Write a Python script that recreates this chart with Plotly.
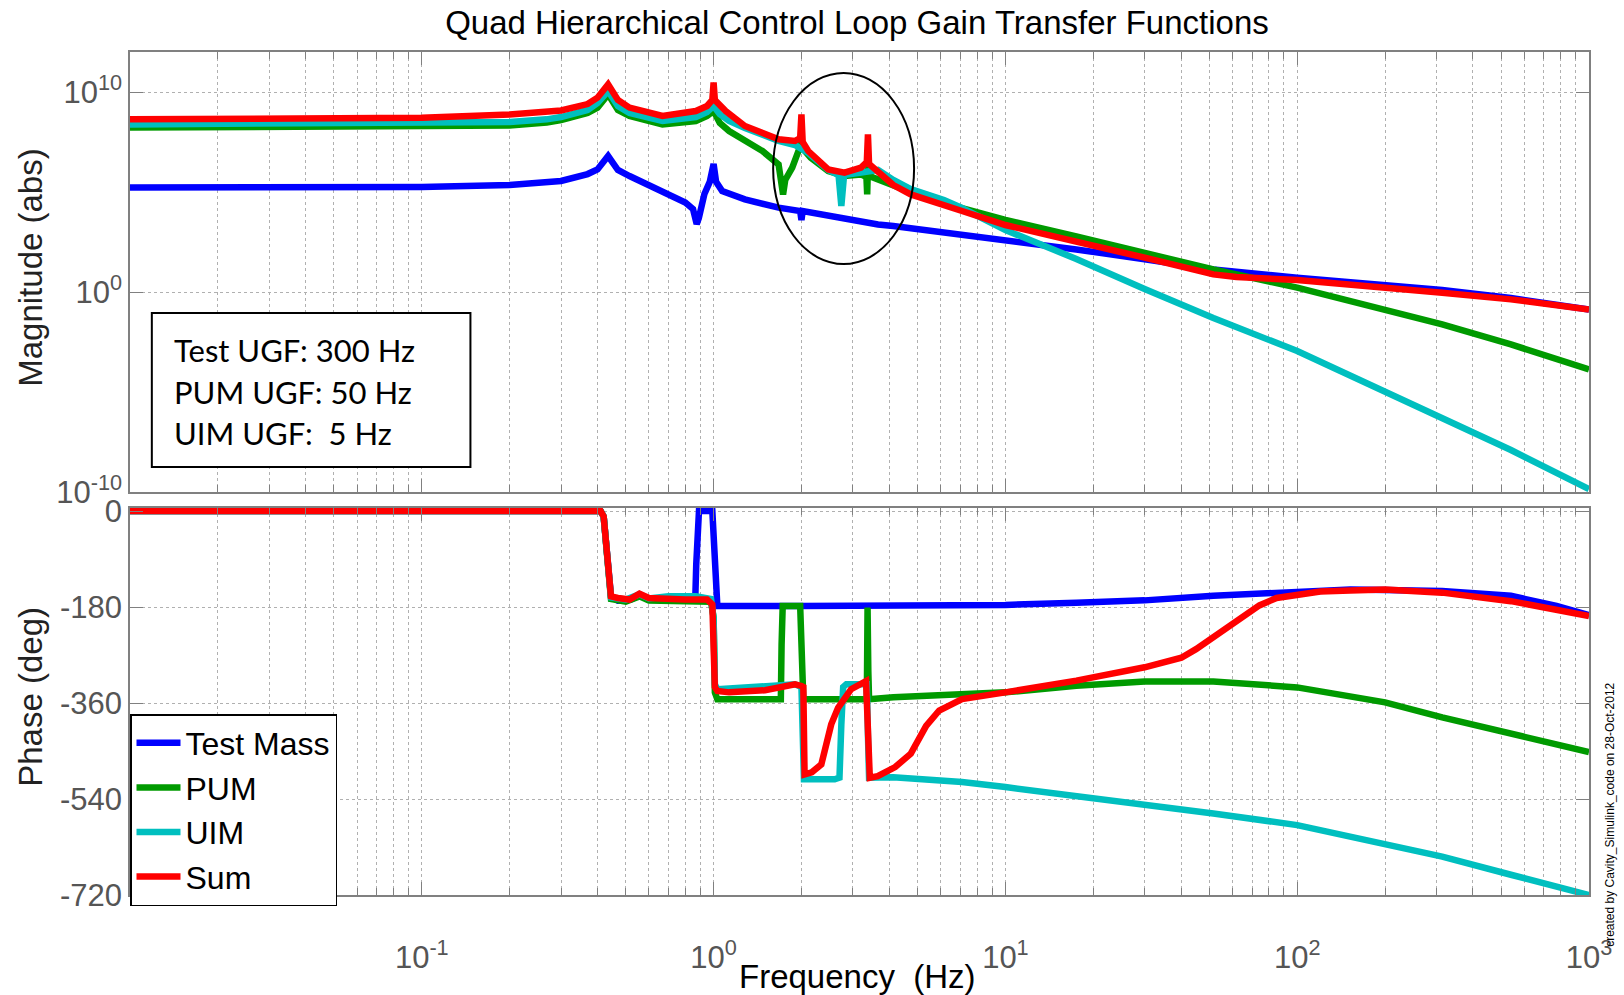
import plotly.graph_objects as go

# ---------------- data ----------------
# Magnitude (abs)
tm_mag_f = [0.01, 0.05, 0.1, 0.2, 0.268, 0.3, 0.37, 0.4, 0.435, 0.47, 0.515, 0.6, 0.668, 0.8, 0.85,
            0.875, 0.89, 0.93, 0.97, 1.0, 1.02, 1.07, 1.28, 1.67, 1.98, 2.0, 2.02, 2.81, 3.66, 4.13,
            6.16, 10, 17.5, 30, 51.6, 100, 200, 314, 540, 1000]
tm_mag = [1.66e5, 1.66e5, 1.78e5, 2.24e5, 2.95e5, 3.55e5, 7.9e5, 1.35e6, 6.3e6, 1.26e6, 6.3e5, 2.24e5,
          1.12e5, 2.95e4, 1.41e4, 2.5e3, 5.0e3, 7.9e4, 3.2e5, 2.5e6, 3.2e5, 1.12e5, 4.3e4, 1.66e4,
          1.12e4, 4.0e3, 1.12e4, 4.3e3, 2.4e3, 2.0e3, 9.3e2, 4.3e2, 1.35e2, 43, 13.5, 5.2, 2.24,
          1.26, 0.5, 0.135]

pum_mag_f = [0.01, 0.1, 0.2, 0.268, 0.3, 0.37, 0.4, 0.435, 0.47, 0.515, 0.668, 0.869, 0.95, 1.0, 1.05,
             1.13, 1.47, 1.67, 1.71, 1.73, 1.76, 1.86, 1.97, 2.0, 2.04, 2.15, 2.47, 2.81, 3.2, 3.34,
             3.36, 3.38, 3.42, 3.66, 4.13, 4.94, 7.1, 10, 17.5, 30, 51.6, 100, 200, 314, 540, 1000]
pum_mag = [1.66e8, 1.78e8, 2.1e8, 2.95e8, 4.0e8, 8.9e8, 1.66e9, 7.6e9, 1.26e9, 6.3e8, 2.4e8, 3.55e8,
           6.3e8, 1.12e9, 2.8e8, 1.12e8, 1.12e7, 2.4e6, 4.0e5, 7.6e4, 4.0e5, 1.66e6, 1.58e7, 4.3e7,
           1.26e7, 5.2e6, 1.12e6, 6.3e5, 7.6e5, 5.6e5, 7.6e4, 2.0e6, 6.3e5, 4.3e5, 2.0e5, 7.9e4,
           1.58e4, 4.0e3, 6.0e2, 93, 13.5, 1.66, 0.135, 0.024, 2.4e-3, 1.35e-4]

uim_mag_f = [0.01, 0.1, 0.2, 0.268, 0.3, 0.37, 0.4, 0.435, 0.47, 0.515, 0.668, 0.869, 0.95, 1.0, 1.05,
             1.13, 1.28, 1.67, 1.9, 2.11, 2.47, 2.68, 2.74, 2.8, 3.2, 3.4, 3.66, 4.13, 4.74, 6.16,
             7.1, 10, 13.6, 17.5, 30, 51.6, 100, 200, 314, 540, 1000]
uim_mag = [2.4e8, 2.6e8, 3.16e8, 4.3e8, 5.6e8, 1.26e9, 2.8e9, 1.12e10, 2.0e9, 8.9e8, 3.55e8, 5.6e8,
           1.0e9, 2.0e9, 7.9e8, 3.55e8, 1.58e8, 3.55e7, 2.24e7, 8.9e6, 1.26e6, 7.1e5, 2.0e4, 7.1e5,
           9.3e5, 1.0e6, 1.26e6, 4.0e5, 1.41e5, 4.0e4, 1.58e4, 1.26e3, 2.24e2, 45, 1.41, 0.05,
           1.12e-3, 1.12e-5, 5.0e-7, 1.26e-8, 1.41e-10]

sum_mag_f = [0.01, 0.1, 0.2, 0.268, 0.3, 0.37, 0.4, 0.435, 0.47, 0.515, 0.668, 0.869, 0.95, 0.99, 1.0,
             1.01, 1.1, 1.28, 1.67, 1.9, 1.98, 2.0, 2.02, 2.11, 2.47, 2.81, 3.2, 3.35, 3.38, 3.41,
             3.66, 4.13, 4.74, 6.16, 7.1, 10, 17.5, 30, 51.6, 61.9, 100, 200, 314, 540, 1000]
sum_mag = [4.3e8, 5.2e8, 7.6e8, 9.3e8, 1.2e9, 2.5e9, 5.2e9, 2.4e10, 4.0e9, 1.66e9, 6.3e8, 1.12e9,
           2.0e9, 4.0e9, 2.95e10, 4.0e9, 1.12e9, 2.0e8, 4.3e7, 3.55e7, 5.0e7, 7.6e8, 3.16e7, 1.12e7,
           1.35e6, 9.3e5, 1.66e6, 3.16e6, 7.6e7, 2.5e6, 1.12e6, 2.24e5, 7.6e4, 2.0e4, 1.12e4,
           2.24e3, 3.55e2, 52, 7.6, 5.6, 4.0, 1.78, 0.93, 0.43, 0.135]

# Phase (deg)
tm_ph_f = [0.01, 0.41, 0.42, 0.43, 0.445, 0.47, 0.52, 0.557, 0.6, 0.8, 0.865, 0.872, 0.891, 0.99,
           1.005, 1.02, 1.03, 2.0, 4.13, 10, 17.5, 30, 51.6, 100, 152, 200, 314, 540, 774, 1000]
tm_ph = [0, 0, -10, -80, -160, -168, -166, -158, -166, -168, -168, -100, 0, 0, -90, -175, -178,
         -178, -178, -176, -172, -167.5, -159, -150, -147, -148, -150, -159, -178, -195]

pum_ph_f = [0.01, 0.41, 0.42, 0.43, 0.445, 0.5, 0.557, 0.6, 0.87, 0.98, 1.0, 1.01, 1.03, 1.5, 1.70,
            1.71, 1.725, 1.98, 2.0, 2.03, 3.35, 3.37, 3.39, 3.41, 4.13, 10, 17.5, 30, 51.6, 100, 200,
            314, 540, 1000]
pum_ph = [0, 0, -10, -90, -165, -170, -160, -168, -170, -170, -200, -340, -353, -353, -353,
          -250, -178, -178, -250, -353, -353, -181, -300, -353, -349, -340, -327.6, -319.5, -319.5,
          -330.7, -358.8, -387, -418, -452]

uim_ph_f = [0.01, 0.41, 0.42, 0.43, 0.445, 0.5, 0.557, 0.6, 0.7, 0.87, 0.98, 1.0, 1.01, 1.03, 1.5,
            1.9, 2.0, 2.02, 2.04, 2.6, 2.70, 2.74, 2.78, 2.85, 3.35, 3.38, 3.41, 4.13, 7.1, 10, 30,
            51.6, 100, 200, 314, 540, 1000]
uim_ph = [0, 0, -10, -85, -162, -166, -156, -164, -160, -160, -165, -200, -325, -334, -330,
          -325, -330, -480, -503, -503, -500, -400, -330, -325, -325, -420, -500, -499, -508,
          -517.6, -548.7, -567, -589, -623, -648, -682, -720]

sum_ph_f = [0.01, 0.41, 0.42, 0.43, 0.445, 0.47, 0.515, 0.557, 0.6, 0.8, 0.95, 0.99, 1.0, 1.01,
            1.03, 1.13, 1.5, 1.9, 2.0, 2.03, 2.05, 2.17, 2.34, 2.53, 2.67, 2.96, 3.33, 3.40, 3.43,
            3.65, 4.19, 4.74, 5.35, 5.93, 7.1, 10, 17.5, 30, 40.1, 45, 51.6, 57, 61.9, 68, 74.2, 85,
            100, 120, 152, 200, 314, 540, 1000]
sum_ph = [0, 0, -10, -80, -160, -163, -166, -155, -163, -166, -166, -175, -250, -330, -337.5,
          -340, -336, -325, -328, -330, -494, -490, -475, -400, -369, -334, -319, -480, -500,
          -497, -480, -455, -403, -374, -352.5, -340, -318, -293, -275, -259, -237, -220, -206,
          -190, -177, -163, -156, -151, -149, -147, -153, -169, -197]

series_names = ["Test Mass", "PUM", "UIM", "Sum"]
series_colors = ["#0000ff", "#009a00", "#00bfbf", "#ff0000"]

x_tickvals = [0.1, 1, 10, 100, 1000]
x_ticktext = ["10<sup>-1</sup>", "10<sup>0</sup>", "10<sup>1</sup>", "10<sup>2</sup>", "10<sup>3</sup>"]
mag_tickvals = [1e-10, 1, 1e10]
mag_ticktext = ["10<sup>-10</sup>", "10<sup>0</sup>", "10<sup>10</sup>"]
ph_tickvals = [-720, -540, -360, -180, 0]
ph_ticktext = ["-720", "-540", "-360", "-180", "0"]

ugf_lines = ["Test UGF: 300 Hz", "PUM UGF: 50 Hz", "UIM UGF:&nbsp; 5 Hz"]

# ---------------- figure ----------------
mag_data = [(tm_mag_f, tm_mag), (pum_mag_f, pum_mag), (uim_mag_f, uim_mag), (sum_mag_f, sum_mag)]
ph_data = [(tm_ph_f, tm_ph), (pum_ph_f, pum_ph), (uim_ph_f, uim_ph), (sum_ph_f, sum_ph)]

LW = 6.5
fig = go.Figure()
for name, color, (fm, m) in zip(series_names, series_colors, mag_data):
    fig.add_trace(go.Scatter(x=fm, y=m, mode="lines", name=name, legendgroup=name, showlegend=False,
                             line=dict(color=color, width=LW), xaxis="x", yaxis="y"))
for name, color, (fp, p) in zip(series_names, series_colors, ph_data):
    fig.add_trace(go.Scatter(x=fp, y=p, mode="lines", name=name, legendgroup=name, showlegend=True,
                             line=dict(color=color, width=LW), xaxis="x2", yaxis="y2"))

FRAME = "#808080"
GRID = "#b0b0b0"
FONT = "Liberation Sans, Arial, sans-serif"
TICKFONT = dict(family=FONT, size=31, color="#555555")

common_x = dict(type="log", range=[-2, 3], tickmode="array", tickvals=x_tickvals, ticktext=x_ticktext,
                ticks="inside", ticklen=13, tickcolor=FRAME, showline=True, linecolor=FRAME,
                linewidth=1.5, mirror="ticks", showgrid=True, gridcolor=GRID, griddash="dot",
                gridwidth=1, zeroline=False, tickfont=TICKFONT,
                minor=dict(dtick="D1", ticks="inside", ticklen=7, tickcolor=FRAME, showgrid=True,
                           gridcolor=GRID, griddash="dot", gridwidth=1))
common_y = dict(ticks="inside", ticklen=13, tickcolor=FRAME, showline=True, linecolor=FRAME,
                linewidth=1.5, mirror="ticks", showgrid=True, gridcolor=GRID, griddash="dot",
                gridwidth=1, zeroline=False, tickfont=TICKFONT)

fig.update_layout(
    width=1624, height=995,
    margin=dict(l=130, r=24, t=52, b=100),
    paper_bgcolor="white", plot_bgcolor="white",
    title=dict(text="Quad Hierarchical Control Loop Gain Transfer Functions",
               font=dict(family=FONT, size=33, color="black"),
               x=0.5277, xref="container", xanchor="center", y=0.977, yref="container",
               yanchor="middle"),
    xaxis=dict(common_x, domain=[0, 1], anchor="y", showticklabels=False),
    yaxis=dict(common_y, domain=[0.478, 1], anchor="x", type="log", range=[-10, 12],
               tickmode="array", tickvals=mag_tickvals, ticktext=mag_ticktext),
    xaxis2=dict(common_x, domain=[0, 1], anchor="y2", matches="x", ticklabelstandoff=34),
    yaxis2=dict(common_y, domain=[0, 0.459], anchor="x2", range=[-720, 5.6],
                tickmode="array", tickvals=ph_tickvals, ticktext=ph_ticktext),
    legend=dict(x=0.0, y=0.2147, xanchor="left", yanchor="top", xref="paper", yref="paper",
                bgcolor="white", bordercolor="black", borderwidth=1.5,
                font=dict(family=FONT, size=32, color="black"),
                tracegroupgap=0, itemwidth=44),
    showlegend=True,
)

AXFONT = dict(family=FONT, size=33, color="#222222")
ylab_x = (29 - 130) / 1470
annotations = [
    dict(text="Magnitude (abs)", x=ylab_x, y=(895 - 268) / 843, xref="paper", yref="paper",
         xanchor="center", yanchor="middle", showarrow=False, textangle=-90, font=AXFONT),
    dict(text="Phase (deg)", x=ylab_x, y=(895 - 697) / 843, xref="paper", yref="paper",
         xanchor="center", yanchor="middle", showarrow=False, textangle=-90, font=AXFONT),
    dict(text="Frequency&nbsp;&nbsp;(Hz)", x=(863 - 130) / 1470, y=(895 - 976) / 843, xref="paper",
         yref="paper", xanchor="center", yanchor="middle", showarrow=False,
         font=dict(AXFONT, color="black")),
    dict(text="created by Cavity_Simulink_code on 28-Oct-2012", x=(1621 - 130) / 1470,
         y=(895 - 815) / 843, xref="paper", yref="paper", xanchor="center", yanchor="middle",
         showarrow=False, textangle=-90, font=dict(family=FONT, size=12, color="black")),
]
for i, line in enumerate(ugf_lines):
    annotations.append(dict(text=line, x=(172 - 130) / 1470, y=(895 - [350, 392, 433][i]) / 843,
                            xref="paper", yref="paper", xanchor="left", yanchor="middle",
                            showarrow=False, font=dict(family="Lato, sans-serif", size=31,
                                                       color="black")))
fig.update_layout(annotations=annotations)

fig.add_shape(type="rect", xref="paper", yref="paper", x0=(152 - 130) / 1470, x1=(473 - 130) / 1470,
              y0=(895 - 467) / 843, y1=(895 - 313) / 843,
              line=dict(color="black", width=2), fillcolor="white", layer="above")
fig.add_shape(type="circle", xref="paper", yref="paper", x0=(778 - 130) / 1470, x1=(920 - 130) / 1470,
              y0=(895 - 264) / 843, y1=(895 - 73) / 843,
              line=dict(color="black", width=2), layer="above")

fig.write_html("out.html")
